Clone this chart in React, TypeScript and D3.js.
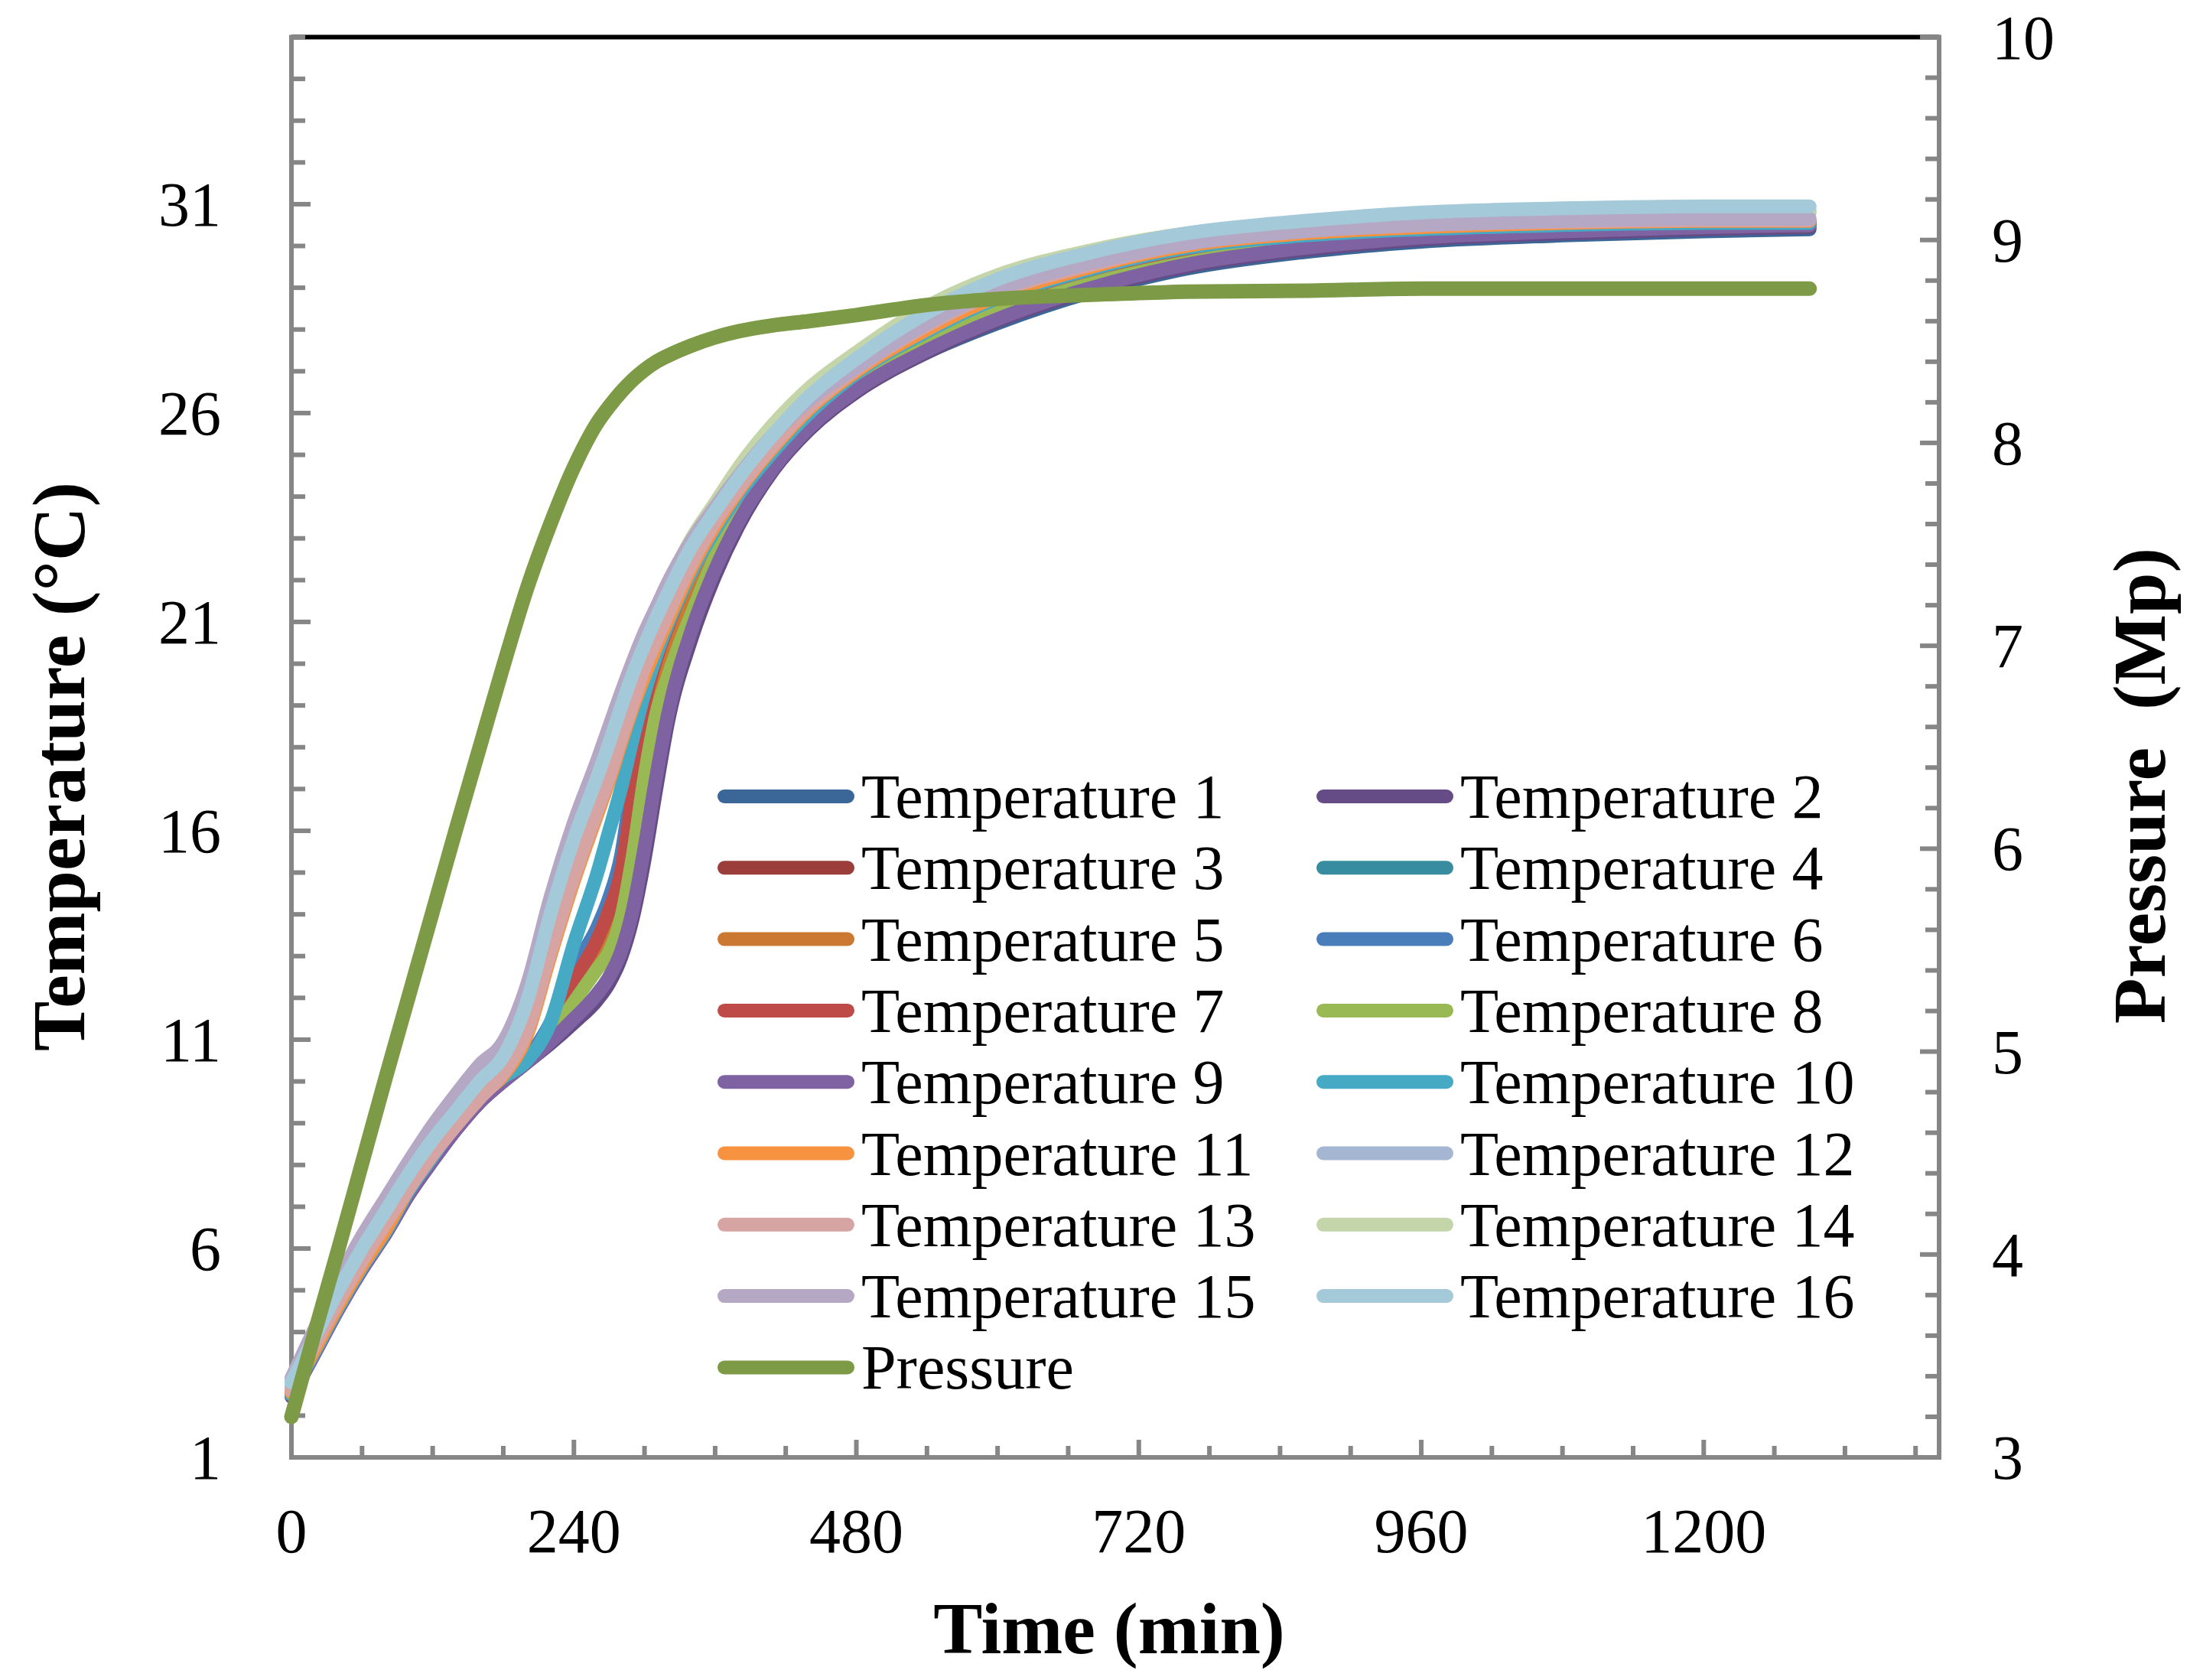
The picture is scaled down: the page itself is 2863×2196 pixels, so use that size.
import React, { useEffect, useRef } from 'react';
import * as d3 from 'd3';

// sample times (min), shared by every series
const times = [0, 20, 40, 60, 80, 100, 120, 140, 160, 180, 200, 220, 240, 260, 270, 280, 290, 300, 310, 320, 340, 360, 380, 410, 440, 480, 540, 600, 680, 760, 860, 960, 1080, 1200, 1290];

// temperature readings (°C)
const temp1 = [2.5, 3.55, 4.6, 5.55, 6.4, 7.35, 8.15, 8.9, 9.55, 10.05, 10.5, 10.95, 11.5, 12.1, 12.5, 13.1, 14.1, 15.6, 17.2, 18.7, 20.7, 22.2, 23.35, 24.7, 25.65, 26.55, 27.45, 28.15, 28.9, 29.45, 29.85, 30.1, 30.25, 30.35, 30.4];
const temp2 = [2.45, 3.5, 4.55, 5.5, 6.35, 7.3, 8.1, 8.85, 9.5, 10.0, 10.45, 10.9, 11.4, 11.95, 12.35, 12.95, 13.9, 15.3, 17.0, 18.6, 20.6, 22.1, 23.3, 24.65, 25.6, 26.5, 27.45, 28.2, 28.95, 29.5, 29.9, 30.15, 30.3, 30.4, 30.45];
const temp3 = [2.5, 3.55, 4.6, 5.55, 6.4, 7.35, 8.15, 8.9, 9.55, 10.05, 10.5, 11.15, 12.0, 12.9, 13.5, 14.3, 15.9, 17.8, 19.2, 20.1, 21.6, 22.85, 23.85, 25.05, 25.95, 26.85, 27.8, 28.55, 29.3, 29.8, 30.15, 30.35, 30.45, 30.5, 30.5];
const temp4 = [2.55, 3.6, 4.65, 5.6, 6.45, 7.4, 8.2, 8.95, 9.6, 10.1, 10.55, 11.35, 12.6, 13.6, 14.3, 15.3, 17.2, 19.1, 20.2, 21.0, 22.35, 23.35, 24.2, 25.25, 26.1, 26.95, 27.95, 28.75, 29.45, 29.95, 30.3, 30.45, 30.55, 30.6, 30.6];
const temp5 = [2.5, 3.55, 4.6, 5.55, 6.4, 7.35, 8.15, 8.9, 9.55, 10.05, 10.5, 11.25, 12.3, 13.2, 13.9, 14.8, 16.5, 18.5, 19.7, 20.6, 22.05, 23.1, 24.0, 25.15, 26.0, 26.85, 27.85, 28.65, 29.35, 29.85, 30.2, 30.4, 30.5, 30.55, 30.55];
const temp6 = [2.55, 3.6, 4.65, 5.6, 6.45, 7.4, 8.2, 8.95, 9.6, 10.1, 10.55, 11.4, 12.7, 13.7, 14.4, 15.4, 17.3, 19.2, 20.3, 21.05, 22.3, 23.3, 24.15, 25.2, 26.05, 26.9, 27.9, 28.7, 29.4, 29.9, 30.25, 30.4, 30.5, 30.55, 30.55];
const temp7 = [2.55, 3.6, 4.6, 5.55, 6.4, 7.35, 8.15, 8.9, 9.55, 10.05, 10.5, 11.3, 12.4, 13.4, 14.1, 15.0, 16.9, 19.0, 20.1, 20.9, 22.25, 23.25, 24.1, 25.2, 26.05, 26.9, 27.9, 28.7, 29.4, 29.9, 30.25, 30.4, 30.5, 30.55, 30.55];
const temp8 = [2.5, 3.55, 4.6, 5.55, 6.4, 7.35, 8.15, 8.9, 9.55, 10.05, 10.55, 11.1, 11.9, 12.7, 13.1, 13.9, 15.4, 17.3, 18.8, 19.7, 21.2, 22.55, 23.6, 24.85, 25.8, 26.75, 27.7, 28.4, 29.1, 29.6, 30.0, 30.25, 30.4, 30.5, 30.5];
const temp9 = [2.5, 3.5, 4.55, 5.5, 6.35, 7.3, 8.1, 8.85, 9.5, 10.0, 10.45, 10.95, 11.5, 12.1, 12.5, 13.1, 14.1, 15.6, 17.3, 18.8, 20.8, 22.25, 23.4, 24.7, 25.65, 26.55, 27.5, 28.25, 29.0, 29.55, 29.95, 30.2, 30.35, 30.45, 30.5];
const temp10 = [2.5, 3.55, 4.6, 5.55, 6.4, 7.4, 8.2, 9.0, 9.65, 10.1, 10.5, 11.4, 13.3, 15.0, 16.0, 17.0, 18.2, 19.3, 20.2, 20.95, 22.2, 23.2, 24.05, 25.1, 26.0, 26.95, 27.95, 28.75, 29.45, 29.95, 30.25, 30.4, 30.5, 30.55, 30.55];
const temp11 = [2.55, 3.6, 4.65, 5.6, 6.45, 7.45, 8.25, 9.0, 9.65, 10.15, 11.1, 13.0, 14.8, 16.4, 17.2, 18.1, 18.95, 19.7, 20.4, 21.05, 22.3, 23.3, 24.15, 25.2, 26.1, 27.0, 28.0, 28.8, 29.5, 30.0, 30.3, 30.45, 30.55, 30.6, 30.6];
const temp12 = [2.7, 3.8, 4.85, 5.8, 6.7, 7.55, 8.35, 9.05, 9.75, 10.35, 11.4, 13.4, 15.2, 16.8, 17.6, 18.45, 19.3, 20.1, 20.75, 21.4, 22.55, 23.5, 24.3, 25.35, 26.25, 27.15, 28.2, 29.0, 29.65, 30.15, 30.45, 30.62, 30.72, 30.78, 30.8];
const temp13 = [2.6, 3.7, 4.75, 5.7, 6.6, 7.45, 8.25, 8.95, 9.6, 10.2, 11.2, 13.1, 14.9, 16.5, 17.3, 18.2, 19.05, 19.9, 20.55, 21.2, 22.4, 23.4, 24.2, 25.25, 26.15, 27.05, 28.1, 28.9, 29.55, 30.05, 30.35, 30.5, 30.58, 30.62, 30.62];
const temp14 = [2.8, 3.95, 5.05, 6.05, 6.95, 7.85, 8.65, 9.35, 10.05, 10.65, 12.0, 14.1, 15.95, 17.5, 18.3, 19.15, 19.95, 20.65, 21.3, 21.9, 23.0, 23.85, 24.7, 25.75, 26.6, 27.45, 28.55, 29.3, 29.9, 30.3, 30.55, 30.75, 30.82, 30.85, 30.85];
const temp15 = [2.9, 4.1, 5.25, 6.3, 7.2, 8.1, 8.95, 9.7, 10.4, 10.95, 12.3, 14.4, 16.2, 17.7, 18.5, 19.3, 20.05, 20.75, 21.35, 21.95, 22.95, 23.75, 24.5, 25.5, 26.3, 27.1, 28.15, 28.95, 29.6, 30.05, 30.35, 30.5, 30.6, 30.65, 30.65];
const temp16 = [2.8, 3.9, 5.0, 6.0, 6.9, 7.8, 8.6, 9.3, 10.0, 10.6, 11.9, 14.0, 15.8, 17.3, 18.1, 18.95, 19.75, 20.45, 21.1, 21.7, 22.8, 23.65, 24.45, 25.5, 26.4, 27.3, 28.4, 29.2, 29.85, 30.3, 30.6, 30.8, 30.9, 30.95, 30.95];

// pressure readings (right axis)
const pressure = [3.2, 3.62, 4.03, 4.45, 4.87, 5.28, 5.69, 6.1, 6.5, 6.9, 7.28, 7.6, 7.88, 8.1, 8.18, 8.25, 8.31, 8.36, 8.4, 8.43, 8.48, 8.52, 8.55, 8.58, 8.6, 8.63, 8.68, 8.71, 8.73, 8.745, 8.75, 8.76, 8.76, 8.76, 8.76];

const tempSeries = [temp1, temp2, temp3, temp4, temp5, temp6, temp7, temp8, temp9, temp10, temp11, temp12, temp13, temp14, temp15, temp16];
const tempColors = ['#3b6698', '#664c86', '#9b3d3a', '#378c9f', '#cb7833', '#4a7ebb', '#be4b48', '#98b954', '#7e62a1', '#46aac5', '#f69240', '#a5b6d3', '#d5a4a3', '#c3d5a9', '#b5a8c5', '#a4c9d8'];
const pressureColor = '#7d9a47';

const leftTicks = [1, 6, 11, 16, 21, 26, 31];
const rightTicks = [3, 4, 5, 6, 7, 8, 9, 10];
const bottomTicks = [0, 240, 480, 720, 960, 1200];

const W = 2863;
const H = 2196;
const FONT = '"Liberation Serif", "Times New Roman", serif';
const AXIS = '#868686';

const App: React.FC = () => {
  const svgRef = useRef<SVGSVGElement>(null);

  useEffect(() => {
    document.body.style.margin = '0';
    if (!svgRef.current) return;
    const svg = d3.select(svgRef.current);
    svg.selectAll('*').remove();

    const left = 381, right = 2535, top = 48.5, bottom = 1905;
    const x = d3.scaleLinear().domain([0, 1400]).range([left, right]);
    const yT = d3.scaleLinear().domain([1, 35]).range([bottom, top]);
    const yP = d3.scaleLinear().domain([3, 10]).range([bottom, top]);

    svg.append('rect').attr('width', W).attr('height', H).attr('fill', '#fff');

    // top border
    svg.append('line')
      .attr('x1', left).attr('x2', right).attr('y1', top).attr('y2', top)
      .attr('stroke', '#000').attr('stroke-width', 6);

    const axes = svg.append('g').attr('stroke', AXIS).attr('stroke-width', 6);

    // left axis, ticks inward
    axes.append('line').attr('x1', left).attr('x2', left).attr('y1', top - 3).attr('y2', bottom + 3);
    d3.range(1, 36).forEach(v => {
      const major = (v - 1) % 5 === 0;
      axes.append('line')
        .attr('x1', left).attr('x2', left + (major ? 25 : 18))
        .attr('y1', yT(v)).attr('y2', yT(v));
    });

    // right axis, ticks inward
    axes.append('line').attr('x1', right).attr('x2', right).attr('y1', top - 3).attr('y2', bottom + 3);
    d3.range(0, 36).forEach(i => {
      const v = 3 + i * 0.2;
      const major = i % 5 === 0;
      axes.append('line')
        .attr('x1', right).attr('x2', right - (major ? 25 : 18))
        .attr('y1', yP(v)).attr('y2', yP(v));
    });

    // bottom axis, ticks upward
    axes.append('line').attr('x1', left - 3).attr('x2', right + 3).attr('y1', bottom).attr('y2', bottom);
    d3.range(60, 1400, 60).forEach(v => {
      const major = v % 240 === 0;
      axes.append('line')
        .attr('x1', x(v)).attr('x2', x(v))
        .attr('y1', bottom).attr('y2', bottom - (major ? 23 : 15));
    });

    // tick labels
    const labels = svg.append('g').attr('font-family', FONT).attr('font-size', 82).attr('fill', '#000');
    leftTicks.forEach(v => {
      labels.append('text').attr('x', 289).attr('y', yT(v) + 28).attr('text-anchor', 'end').text(v);
    });
    rightTicks.forEach(v => {
      labels.append('text').attr('x', 2604).attr('y', yP(v) + 28).attr('text-anchor', 'start').text(v);
    });
    bottomTicks.forEach(v => {
      labels.append('text').attr('x', x(v)).attr('y', 2029).attr('text-anchor', 'middle').text(v);
    });

    // axis titles
    const titles = svg.append('g').attr('font-family', FONT).attr('font-weight', 'bold').attr('font-size', 98).attr('fill', '#000');
    titles.append('text').attr('x', 1450).attr('y', 2161).attr('text-anchor', 'middle').attr('font-size', 96).text('Time (min)');
    titles.append('text').attr('transform', 'translate(110,1002) rotate(-90)').attr('text-anchor', 'middle').text('Temperature (°C)');
    titles.append('text').attr('transform', 'translate(2830,1027) rotate(-90)').attr('text-anchor', 'middle')
      .style('white-space', 'pre').text('Pressure  (Mp)');

    // series
    const lineT = d3.line<number>().x((_, i) => x(times[i])).y(d => yT(d)).curve(d3.curveMonotoneX);
    const lineP = d3.line<number>().x((_, i) => x(times[i])).y(d => yP(d)).curve(d3.curveMonotoneX);

    const plot = svg.append('g').attr('fill', 'none')
      .attr('stroke-linecap', 'round').attr('stroke-linejoin', 'round');
    tempSeries.forEach((s, i) => {
      plot.append('path').attr('d', lineT(s)).attr('stroke', tempColors[i]).attr('stroke-width', 18);
    });
    plot.append('path').attr('d', lineP(pressure)).attr('stroke', pressureColor).attr('stroke-width', 19);

    // legend, two columns
    const names = tempSeries.map((_, i) => `Temperature ${i + 1}`).concat('Pressure');
    const colors = tempColors.concat(pressureColor);
    const legend = svg.append('g').attr('font-family', FONT).attr('font-size', 82);
    names.forEach((name, i) => {
      const col = i % 2;
      const row = Math.floor(i / 2);
      const lx = col === 0 ? 938 : 1721;
      const ly = 1041 + row * 93.3;
      legend.append('line')
        .attr('x1', lx + 9).attr('x2', lx + 170).attr('y1', ly).attr('y2', ly)
        .attr('stroke', colors[i]).attr('stroke-width', 18).attr('stroke-linecap', 'round');
      legend.append('text').attr('x', lx + 188).attr('y', ly + 28).text(name);
    });
  }, []);

  return <svg ref={svgRef} width={W} height={H} style={{ display: 'block' }} />;
};

export default App;
